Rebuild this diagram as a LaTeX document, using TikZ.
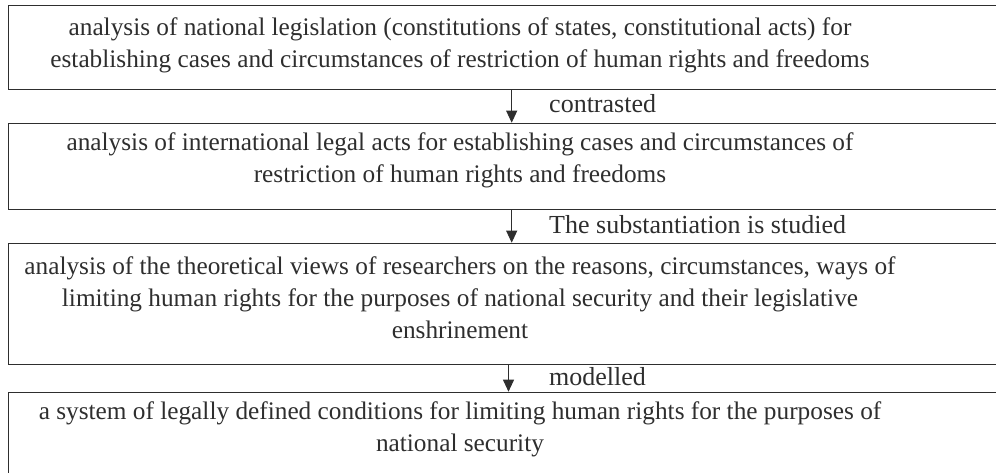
\documentclass[tikz,border=0pt]{standalone}
\usepackage{fontspec}
\setmainfont{Liberation Serif}
\usetikzlibrary{arrows.meta}
\definecolor{ink}{HTML}{2E2E2E}
\tikzset{
  box/.style={draw=ink, line width=0.9pt, anchor=north west, minimum width=992pt, inner sep=0pt},
  txt/.style={align=center, text=ink, font=\fontsize{25.3}{32}\selectfont, inner sep=0pt},
  lab/.style={anchor=west, text=ink, font=\fontsize{26}{28}\selectfont, inner sep=0pt},
  arr/.style={draw=ink, line width=0.9pt, -{Triangle[length=12pt,width=11pt]}, shorten >=0pt}
}
\begin{document}
\begin{tikzpicture}[x=1pt,y=-1pt]
\useasboundingbox (0,0) rectangle (996,473);
\clip (0,0) rectangle (996,473);
\node[box, minimum height=84pt] (b1) at (8.3,5) {};
\node[box, minimum height=86.5pt] (b2) at (8.3,122.7) {};
\node[box, minimum height=121.5pt] (b3) at (8.3,242.7) {};
\node[box, minimum height=104pt] (b4) at (8.3,391.7) {};
\node[txt] (t1) at (460,45.5)
  {analysis of national legislation (constitutions of states, constitutional acts) for\\
   establishing cases and circumstances of restriction of human rights and freedoms};
\node[txt] (t2) at (460,160.5)
  {analysis of international legal acts for establishing cases and circumstances of\\
   restriction of human rights and freedoms};
\node[txt] (t3) at (460,297.5)
  {analysis of the theoretical views of researchers on the reasons, circumstances, ways of\\
   limiting human rights for the purposes of national security and their legislative\\
   enshrinement};
\node[txt] (t4) at (460,429)
  {a system of legally defined conditions for limiting human rights for the purposes of\\
   national security};
\coordinate (ax1) at (511.7,0);
\coordinate (ax2) at (511.7,0);
\coordinate (ax3) at (508.5,0);
\draw[arr] (b1.south -| ax1) -- (b2.north -| ax1);
\draw[arr] (b2.south -| ax2) -- (b3.north -| ax2);
\draw[arr] (b3.south -| ax3) -- (b4.north -| ax3);
\node[lab] (l1) at (549,104) {contrasted};
\node[lab] (l2) at (549,225) {The substantiation is studied};
\node[lab] (l3) at (549,376.5) {modelled};
\end{tikzpicture}
\end{document}
